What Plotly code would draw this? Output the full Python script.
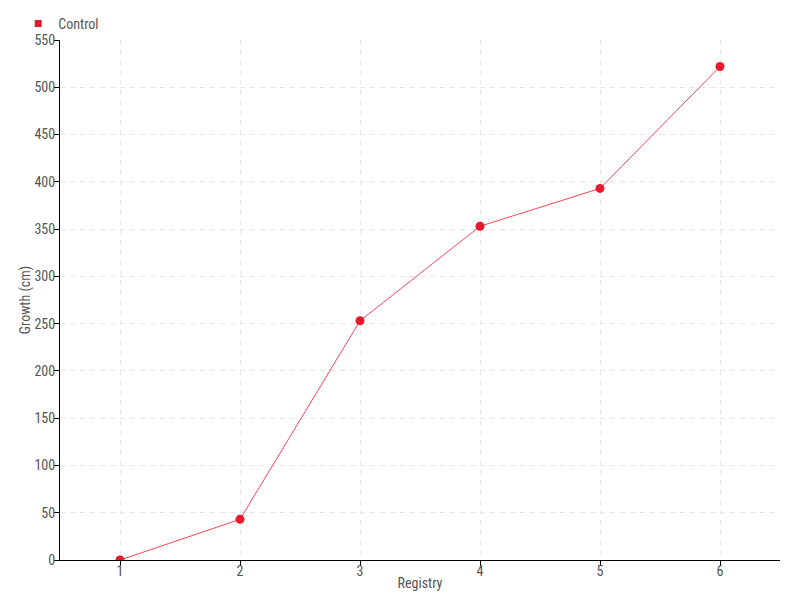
import plotly.graph_objects as go

registry = [1, 2, 3, 4, 5, 6]
growth = [0, 43, 253, 353, 393, 522]
series_name = "Control"

font_family = "Liberation Sans Narrow, Roboto Condensed, Arial Narrow, sans-serif"

fig = go.Figure()
fig.add_trace(go.Scatter(
    x=registry, y=growth, name=series_name, mode="lines+markers",
    line=dict(color="#ff4455", width=1),
    marker=dict(color="#e8192c", size=9),
    showlegend=False,
))
# legend-only entry with a square swatch
fig.add_trace(go.Scatter(
    x=[None], y=[None], name=series_name, mode="markers",
    marker=dict(color="#e8192c", size=7, symbol="square"),
    showlegend=True,
))

fig.update_layout(
    width=784, height=584,
    margin=dict(l=52, r=12, t=32, b=32, autoexpand=False),
    paper_bgcolor="white", plot_bgcolor="white",
    font=dict(family=font_family, size=14, color="#555555"),
    showlegend=True,
    legend=dict(x=-0.058, y=1.0, xanchor="left", yanchor="bottom", orientation="h",
                font=dict(size=14, color="#555555"), itemwidth=30,
                bgcolor="rgba(0,0,0,0)", tracegroupgap=0),
    xaxis=dict(
        range=[0.5, 6.5], tickvals=registry, ticktext=[str(v) for v in registry],
        showline=True, linecolor="black", linewidth=1,
        ticks="outside", ticklen=5, tickcolor="black",
        ticklabelstandoff=-7,
        showgrid=True, gridcolor="#e6e6e6", griddash="5px,5px", zeroline=False,
        automargin=False,
        title=dict(text="Registry", standoff=0, font=dict(size=14)),
    ),
    yaxis=dict(
        range=[0, 550], dtick=50,
        showline=True, linecolor="black", linewidth=1,
        ticks="outside", ticklen=5, tickcolor="black",
        ticklabelstandoff=-4,
        showgrid=True, gridcolor="#e6e6e6", griddash="5px,5px", zeroline=False,
        automargin=True,
        title=dict(text="Growth (cm)", standoff=0, font=dict(size=14)),
    ),
)

fig.write_html("out.html")
